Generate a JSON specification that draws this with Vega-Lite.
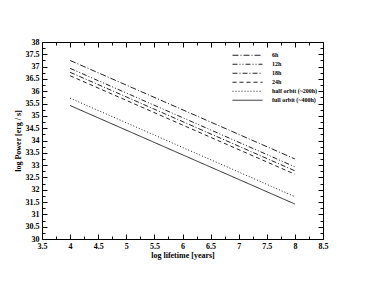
{
  "$schema": "https://vega.github.io/schema/vega-lite/v6.json",
  "width": 281,
  "height": 197,
  "autosize": {"type": "none"},
  "padding": {"left": 42, "top": 42, "right": 51, "bottom": 50},
  "background": "white",
  "config": {
    "font": "Liberation Serif",
    "view": {"stroke": "black", "strokeWidth": 1},
    "axis": {
      "domain": false,
      "grid": false,
      "tickColor": "black",
      "labelFont": "Liberation Serif",
      "labelFontWeight": "bold",
      "labelFontSize": 8,
      "labelColor": "black",
      "titleFont": "Liberation Serif",
      "titleFontWeight": "bold",
      "titleFontSize": 8,
      "titleColor": "black",
      "labelOverlap": false,
      "labelBound": false,
      "labelFlush": false
    }
  },
  "data": {
    "values": [
      {"series": "6h", "x": 4, "y": 37.25},
      {"series": "6h", "x": 8, "y": 33.25},
      {"series": "12h", "x": 4, "y": 36.93},
      {"series": "12h", "x": 8, "y": 32.93},
      {"series": "18h", "x": 4, "y": 36.77},
      {"series": "18h", "x": 8, "y": 32.77},
      {"series": "24h", "x": 4, "y": 36.63},
      {"series": "24h", "x": 8, "y": 32.63},
      {"series": "half orbit (~200h)", "x": 4, "y": 35.72},
      {"series": "half orbit (~200h)", "x": 8, "y": 31.72},
      {"series": "full orbit (~400h)", "x": 4, "y": 35.42},
      {"series": "full orbit (~400h)", "x": 8, "y": 31.42}
    ]
  },
  "layer": [
    {
      "mark": {"type": "line", "strokeWidth": 1, "stroke": "#222222"},
      "encoding": {
        "x": {
          "field": "x", "type": "quantitative",
          "scale": {"domain": [3.5, 8.5], "nice": false, "zero": false},
          "axis": {
            "orient": "bottom",
            "title": "log lifetime [years]",
            "titlePadding": -1,
            "values": [3.5,3.75,4,4.25,4.5,4.75,5,5.25,5.5,5.75,6,6.25,6.5,6.75,7,7.25,7.5,7.75,8,8.25,8.5],
            "labelExpr": "(datum.value*2) % 1 == 0 ? toString(datum.value) : ''",
            "tickSize": {"condition": {"test": "(datum.value*2) % 1 != 0", "value": -3}, "value": -5},
            "labelPadding": 8
          }
        },
        "y": {
          "field": "y", "type": "quantitative",
          "scale": {"domain": [30, 38], "nice": false, "zero": false},
          "axis": {
            "orient": "left",
            "title": "log Power [erg / s]",
            "titlePadding": 3,
            "values": [30,30.25,30.5,30.75,31,31.25,31.5,31.75,32,32.25,32.5,32.75,33,33.25,33.5,33.75,34,34.25,34.5,34.75,35,35.25,35.5,35.75,36,36.25,36.5,36.75,37,37.25,37.5,37.75,38],
            "labelExpr": "(datum.value*2) % 1 == 0 ? toString(datum.value) : ''",
            "tickSize": {"condition": {"test": "(datum.value*2) % 1 != 0", "value": -3}, "value": -5},
            "labelPadding": 8
          }
        },
        "strokeDash": {
          "field": "series", "type": "nominal",
          "sort": ["6h", "12h", "18h", "24h", "half orbit (~200h)", "full orbit (~400h)"],
          "scale": {
            "domain": ["6h", "12h", "18h", "24h", "half orbit (~200h)", "full orbit (~400h)"],
            "range": [[6, 2, 1, 2], [5, 2, 1, 2, 1, 2], [5, 2, 1, 2], [4, 3], [1, 2], [1, 0]]
          },
          "legend": {
            "title": null,
            "orient": "none",
            "legendX": 190,
            "legendY": 9,
            "symbolType": "stroke",
            "symbolSize": 900,
            "symbolStrokeWidth": 1,
            "symbolStrokeColor": "#222222",
            "clipHeight": 8.5,
            "rowPadding": 0,
            "labelOffset": 9,
            "labelFont": "Liberation Serif",
            "labelFontWeight": "bold",
            "labelFontSize": 6,
            "labelColor": "black",
            "labelLimit": 200
          }
        }
      }
    },
    {
      "mark": {"type": "line", "opacity": 0},
      "encoding": {
        "x": {
          "field": "x", "type": "quantitative",
          "axis": {
            "orient": "top",
            "title": null,
            "labels": false,
            "values": [3.5,3.75,4,4.25,4.5,4.75,5,5.25,5.5,5.75,6,6.25,6.5,6.75,7,7.25,7.5,7.75,8,8.25,8.5],
            "tickSize": {"condition": {"test": "(datum.value*2) % 1 != 0", "value": -3}, "value": -5}
          }
        },
        "y": {
          "field": "y", "type": "quantitative",
          "axis": {
            "orient": "right",
            "title": null,
            "labels": false,
            "values": [30,30.25,30.5,30.75,31,31.25,31.5,31.75,32,32.25,32.5,32.75,33,33.25,33.5,33.75,34,34.25,34.5,34.75,35,35.25,35.5,35.75,36,36.25,36.5,36.75,37,37.25,37.5,37.75,38],
            "tickSize": {"condition": {"test": "(datum.value*2) % 1 != 0", "value": -3}, "value": -5}
          }
        },
        "detail": {"field": "series"}
      }
    }
  ],
  "resolve": {"axis": {"x": "independent", "y": "independent"}}
}
